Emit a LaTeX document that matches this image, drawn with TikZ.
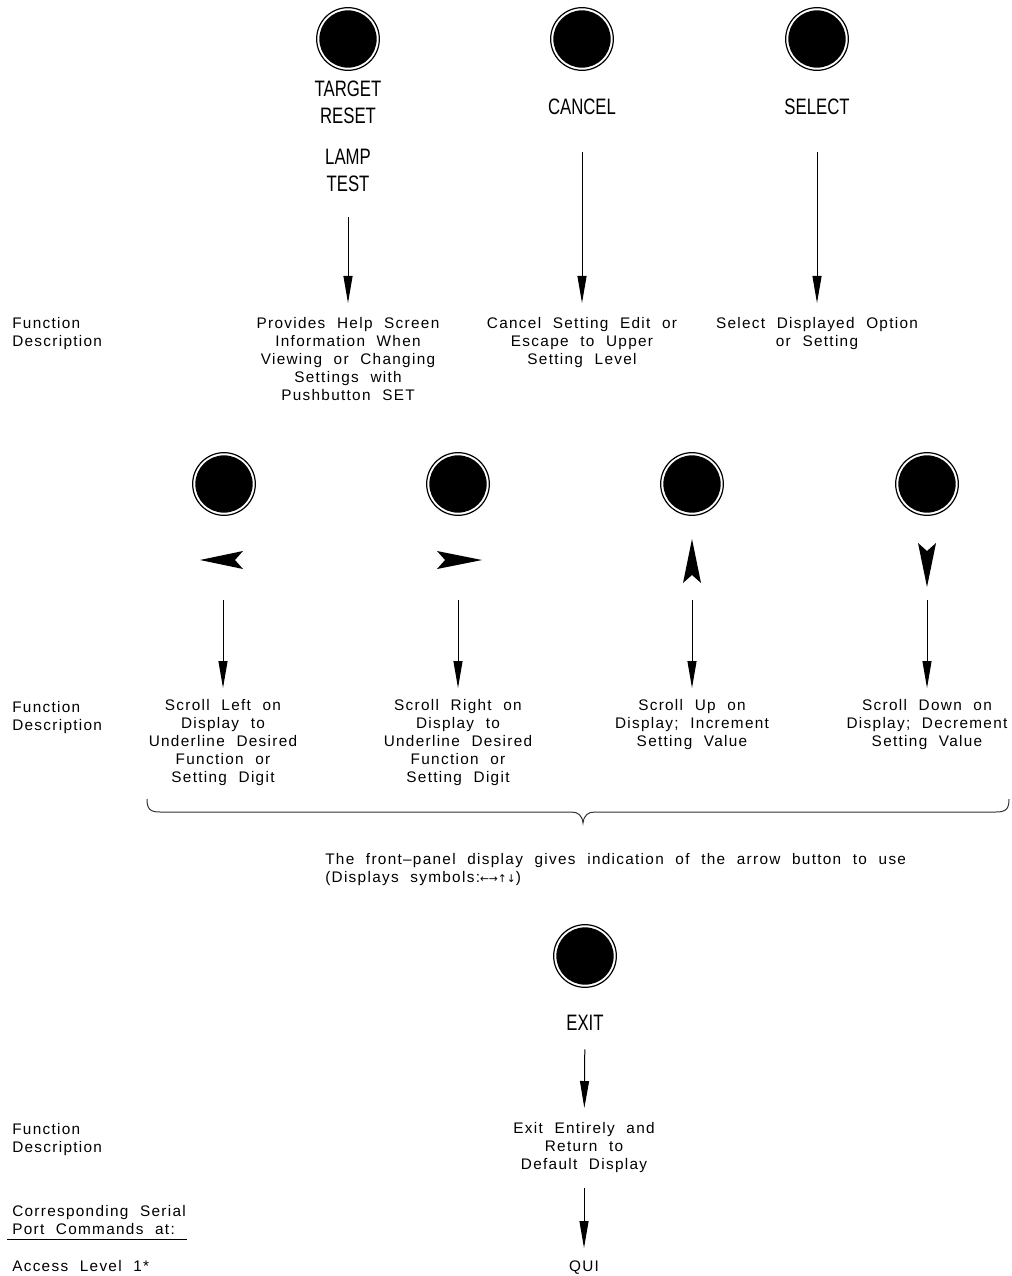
\documentclass[tikz,border=0pt]{standalone}
\usepackage{fontspec}
\setmainfont{Liberation Sans}[LetterSpace=8.5, WordSpace=2.1]
\newfontfamily\lblfont{Liberation Sans}[FakeStretch=0.75]
\newfontfamily\arrfont{DejaVu Sans}
\usetikzlibrary{arrows.meta}
\begin{document}
\begin{tikzpicture}[x=0.75pt,y=-0.75pt,
 btn/.style={circle, draw, line width=0.9pt, minimum size=47pt, inner sep=0pt,
   path picture={\fill (path picture bounding box.center) circle[radius=21.5pt];}},
 lbl/.style={font=\lblfont\fontsize{16.75}{20.25}\selectfont, align=center, inner sep=0pt},
 desc/.style={font=\fontsize{11.5}{13.5}\selectfont, align=center, inner sep=0pt, anchor=north},
 side/.style={font=\fontsize{11.5}{13.5}\selectfont, align=left, inner sep=0pt, anchor=north west},
 conn/.style={line width=0.75pt, -{Triangle[length=20.25pt,width=6.75pt]}},
 sym/.style={fill=black}]
\useasboundingbox (0,0) rectangle (1011,1276);

% ---- top row ----
\node[btn] (btarget) at (348,39) {};
\node[btn] (bcancel) at (582,39) {};
\node[btn] (bselect) at (817,39) {};
\node[lbl] (ltarget) at (348,102.5) {TARGET\\RESET};
\node[lbl] (llamp) at (348,170.5) {LAMP\\TEST};
\node[lbl] (lcancel) at (582,107) {CANCEL};
\node[lbl] (lselect) at (817,107) {SELECT};

\node[side] (f1) at (12,317) {Function\\Description};
\node[desc] (dhelp) at (348,317) {Provides Help Screen\\Information When\\Viewing or Changing\\Settings with\\Pushbutton SET};
\node[desc] (dcancel) at (582,317) {Cancel Setting Edit or\\Escape to Upper\\Setting Level};
\node[desc] (dselect) at (817,317) {Select Displayed Option\\or Setting};

\draw[conn, shorten <=18.75pt, shorten >=10.5pt] (llamp) -- (dhelp);
\draw[conn, shorten <=27.75pt, shorten >=10.5pt] (lcancel) -- (dcancel);
\draw[conn, shorten <=27.75pt, shorten >=10.5pt] (lselect) -- (dselect);

% ---- second row ----
\node[btn] (bleft) at (224,484) {};
\node[btn] (bright) at (458,484) {};
\node[btn] (bup) at (692,484) {};
\node[btn] (bdown) at (927,484) {};

\fill[sym] (200,560) -- (243,551) -- (235,560) -- (243,569) -- cycle;
\fill[sym] (482,560) -- (437,551) -- (445,560) -- (437,569) -- cycle;
\fill[sym] (692,539) -- (683,583) -- (692,575) -- (701,583) -- cycle;
\fill[sym] (927,587) -- (918,543) -- (927,551) -- (936,543) -- cycle;

\node[side] (f2) at (12,701) {Function\\Description};
\node[desc] (dleft) at (223,699) {Scroll Left on\\Display to\\Underline Desired\\Function or\\Setting Digit};
\node[desc] (dright) at (458,699) {Scroll Right on\\Display to\\Underline Desired\\Function or\\Setting Digit};
\node[desc] (dup) at (692,699) {Scroll Up on\\Display; Increment\\Setting Value};
\node[desc] (ddown) at (927,699) {Scroll Down on\\Display; Decrement\\Setting Value};

\coordinate (sl) at (223,600);
\coordinate (sr) at (458,600);
\coordinate (su) at (692,600);
\coordinate (sd) at (927,600);
\draw[conn, shorten >=8.25pt] (sl) -- (dleft.north);
\draw[conn, shorten >=8.25pt] (sr) -- (dright.north);
\draw[conn, shorten >=8.25pt] (su) -- (dup.north);
\draw[conn, shorten >=8.25pt] (sd) -- (ddown.north);

% brace
\draw[line width=0.75pt, black!80] (147,799) .. controls (147,809) and (150,812) .. (160,812) -- (571,812)
  .. controls (578,812) and (582,815) .. (583,823)
  .. controls (584,815) and (588,812) .. (595,812) -- (996,812)
  .. controls (1006,812) and (1009,809) .. (1009,799);

\node[side] (note) at (325,853) {The front--panel display gives indication of the arrow button to use\\(Displays symbols:{\arrfont\fontsize{8}{10}\selectfont ←→↑↓})};

% ---- exit ----
\node[btn] (bexit) at (585,956) {};
\node[lbl] (lexit) at (585,1022.5) {EXIT};
\node[side] (f3) at (12,1123) {Function\\Description};
\node[desc] (dexit) at (584,1122) {Exit Entirely and\\Return to\\Default Display};
\node[desc] (qui) at (584,1261) {QUI};
\draw[conn, shorten <=14.25pt, shorten >=10.5pt] (lexit) -- (dexit);
\draw[conn, shorten <=11.25pt, shorten >=9.75pt] (dexit) -- (qui);

\node[side] (corr) at (12,1205) {Corresponding Serial\\Port Commands at:};
\draw[line width=0.75pt] (7,1239) -- (187,1239);
\node[side] (acc) at (12,1260) {Access Level 1*};
\end{tikzpicture}
\end{document}
